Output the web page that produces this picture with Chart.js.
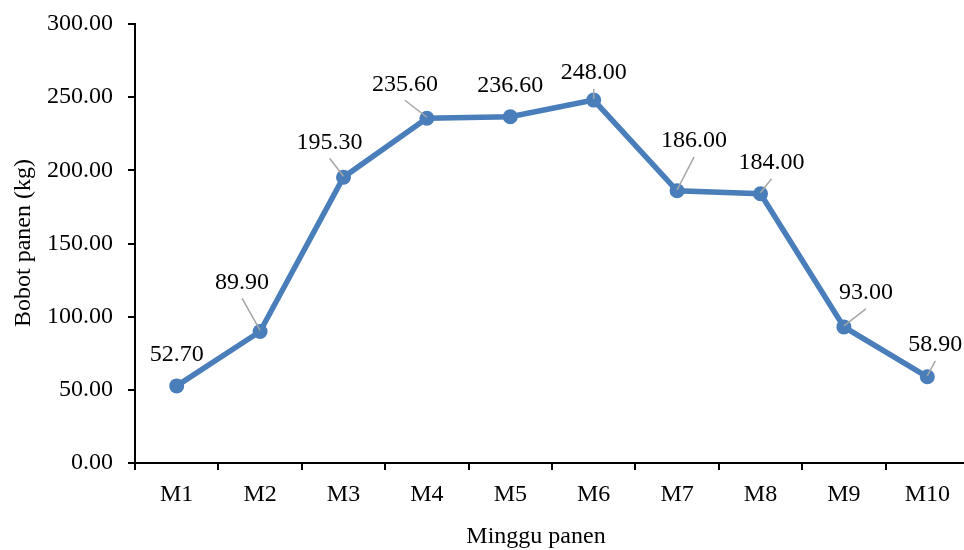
<!DOCTYPE html>
<html>
<head>
<meta charset="utf-8">
<title>Bobot panen per minggu</title>
<script src="https://cdn.jsdelivr.net/npm/chart.js@4.4.1/dist/chart.umd.min.js"></script>
<style>
  html, body { margin: 0; padding: 0; background: #fff; overflow: hidden; }
  /* the x axis runs slightly past the right edge of the window */
  #wrap { position: relative; width: 970px; height: 550px; }
</style>
</head>
<body>
<div id="wrap"><canvas id="chart"></canvas></div>
<script>
// Harvest weeks and harvest weight (kg)
const weeks = ['M1', 'M2', 'M3', 'M4', 'M5', 'M6', 'M7', 'M8', 'M9', 'M10'];
const harvestKg = [52.70, 89.90, 195.30, 235.60, 236.60, 248.00, 186.00, 184.00, 93.00, 58.90];
const yTicks = [0, 50, 100, 150, 200, 250, 300];

const xTitle = 'Minggu panen';
const yTitle = 'Bobot panen (kg)';

// Label placement relative to each point: [dx, dy, draw leader line]
const labelPlacement = [
  [0, -31, false], [-18, -49, true], [-14, -35, true], [-22, -34, true], [0, -31, false],
  [0, -27, true], [17, -50, true], [11, -31, true], [22, -34, true], [8, -32, true]
];

const FONT = "'Liberation Serif', 'Times New Roman', Times, serif";
const LINE_BLUE = '#4A7EBB';

Chart.defaults.font.family = FONT;
Chart.defaults.font.size = 24;
Chart.defaults.color = '#000';

const valueLabels = {
  id: 'valueLabels',
  afterDatasetsDraw(chart) {
    const ctx = chart.ctx;
    const meta = chart.getDatasetMeta(0);
    ctx.save();
    ctx.font = '24px ' + FONT;
    ctx.textAlign = 'center';
    ctx.textBaseline = 'middle';
    meta.data.forEach((pt, i) => {
      const [dx, dy, leader] = labelPlacement[i];
      const lx = pt.x + dx, ly = pt.y + dy;
      if (leader) {
        const sx = lx, sy = ly + 16;
        ctx.strokeStyle = '#A6A6A6';
        ctx.lineWidth = 1.5;
        ctx.beginPath();
        ctx.moveTo(sx, sy);
        ctx.lineTo(pt.x, pt.y - 1);
        ctx.stroke();
      }
      ctx.fillStyle = '#000';
      ctx.fillText(harvestKg[i].toFixed(2), lx, ly);
    });
    ctx.restore();
  },
  afterDraw(chart) {
    const ctx = chart.ctx;
    ctx.save();
    ctx.font = '24px ' + FONT;
    ctx.fillStyle = '#000';
    ctx.textAlign = 'center';
    ctx.textBaseline = 'alphabetic';
    ctx.fillText(xTitle, 536, 543);
    ctx.translate(30, 243);
    ctx.rotate(-Math.PI / 2);
    ctx.fillText(yTitle, 0, 0);
    ctx.restore();
  }
};

new Chart(document.getElementById('chart'), {
  type: 'line',
  data: {
    labels: weeks,
    datasets: [{
      label: 'Bobot panen (kg)',
      data: harvestKg,
      borderColor: LINE_BLUE,
      backgroundColor: LINE_BLUE,
      borderWidth: 5.5,
      pointRadius: 7.5,
      pointHoverRadius: 7.5,
      pointBorderWidth: 0,
      pointBackgroundColor: LINE_BLUE,
      tension: 0,
      clip: false
    }]
  },
  options: {
    responsive: true,
    maintainAspectRatio: false,
    devicePixelRatio: 1,
    animation: false,
    events: [],
    layout: { autoPadding: false, padding: { top: 24, right: 1, left: 0, bottom: 0 } },
    plugins: {
      legend: { display: false },
      tooltip: { enabled: false },
      title: { display: false }
    },
    scales: {
      x: {
        type: 'category',
        offset: true,
        grid: {
          display: true,
          offset: true,
          drawOnChartArea: false,
          drawTicks: true,
          tickLength: 7,
          color: '#000',
          lineWidth: 2
        },
        border: { display: true, color: '#000', width: 2 },
        ticks: { padding: 10, font: { size: 24 }, color: '#000', maxRotation: 0 },
        afterFit(scale) {
          scale.height = 87;
          scale.paddingLeft = 0;
          scale.paddingRight = 0;
        }
      },
      y: {
        min: 0,
        max: 300,
        afterBuildTicks(scale) { scale.ticks = yTicks.map(v => ({ value: v })); },
        grid: {
          display: true,
          drawOnChartArea: false,
          drawTicks: true,
          tickLength: 7,
          color: '#000',
          lineWidth: 2
        },
        border: { display: true, color: '#000', width: 2 },
        ticks: {
          padding: 15,
          font: { size: 24 },
          color: '#000',
          callback: v => Number(v).toFixed(2)
        },
        afterFit(scale) {
          scale.width = 135;
          scale.paddingTop = 0;
          scale.paddingBottom = 0;
        }
      }
    }
  },
  plugins: [valueLabels]
});
</script>
</body>
</html>
